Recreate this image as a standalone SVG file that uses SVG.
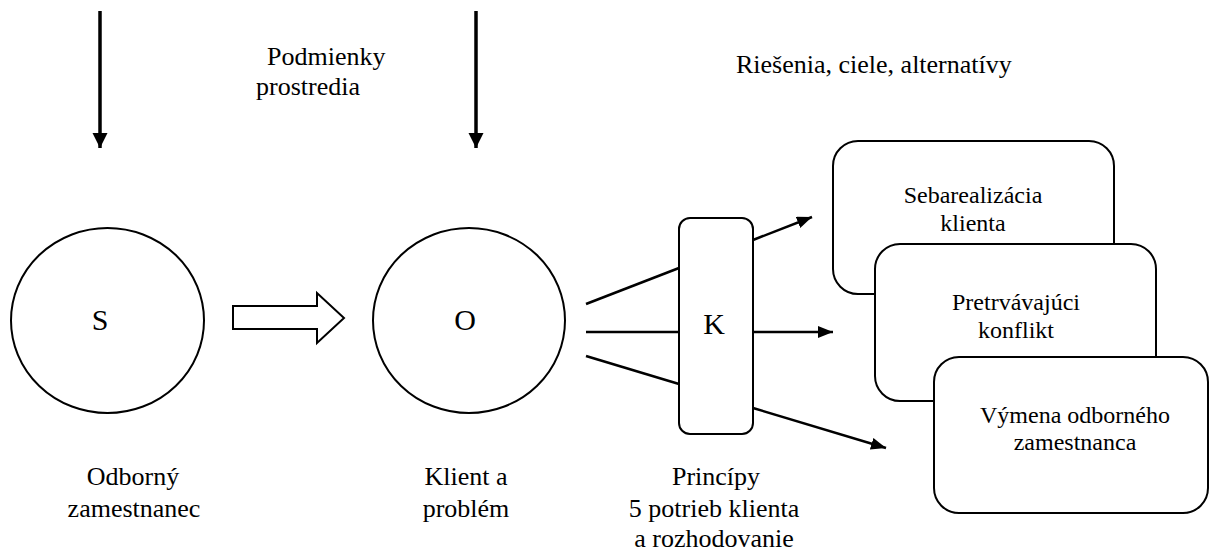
<svg xmlns="http://www.w3.org/2000/svg" width="1210" height="551" viewBox="0 0 1210 551">
<style>
  .lbl { font-size: 26px; }
  .box-t { font-size: 24px; text-anchor: middle; }
  .mid { text-anchor: middle; }
  .letter { font-size: 30px; text-anchor: middle; }
  .shape { fill: #fff; stroke: #000; stroke-width: 2; }
  .conn { stroke: #000; stroke-width: 2.5; fill: none; }
  .down { stroke: #000; stroke-width: 3.5; fill: none; }
</style>
<defs>
  <marker id="ah" markerUnits="userSpaceOnUse" markerWidth="16" markerHeight="13" refX="15" refY="6" orient="auto">
    <path d="M0,0 L15,6 L0,12 z" fill="#000"/>
  </marker>
  <marker id="ahBig" markerUnits="userSpaceOnUse" markerWidth="16" markerHeight="16" refX="15" refY="7.5" orient="auto">
    <path d="M0,0 L15,7.5 L0,15 z" fill="#000"/>
  </marker>
</defs>
<rect width="1210" height="551" fill="#fff"/>

<g id="connectors">
  <line class="down" x1="100" y1="11" x2="100" y2="148" marker-end="url(#ahBig)"/>
  <line class="down" x1="476" y1="11" x2="476" y2="148" marker-end="url(#ahBig)"/>
  <polygon class="shape" points="233,306 317,306 317,293 344,318 317,343 317,329 233,329"/>
  <line class="conn" x1="586" y1="304" x2="679" y2="268"/>
  <line class="conn" x1="586" y1="332" x2="679" y2="332"/>
  <line class="conn" x1="586" y1="356" x2="679" y2="384"/>
  <line class="conn" x1="753" y1="240" x2="812" y2="217" marker-end="url(#ah)"/>
  <line class="conn" x1="753" y1="332" x2="833" y2="332" marker-end="url(#ah)"/>
  <line class="conn" x1="753" y1="408" x2="886" y2="448" marker-end="url(#ah)"/>
</g>

<g font-family="Liberation Serif, serif" fill="#000">
<g id="labels-top">
  <text class="lbl" x="267" y="65">Podmienky</text>
  <text class="lbl" x="256" y="95">prostredia</text>
  <text class="lbl" x="736" y="73">Riešenia, ciele, alternatívy</text>
</g>

<g id="node-S">
  <ellipse class="shape" cx="107.5" cy="320.5" rx="96.5" ry="92.5"/>
  <text class="letter" x="100" y="330">S</text>
  <text class="lbl mid" x="133" y="485">Odborný</text>
  <text class="lbl mid" x="134" y="517">zamestnanec</text>
</g>

<g id="node-O">
  <ellipse class="shape" cx="469" cy="320.5" rx="96" ry="92.5"/>
  <text class="letter" x="465" y="330">O</text>
  <text class="lbl mid" x="466" y="485">Klient a</text>
  <text class="lbl mid" x="466" y="517">problém</text>
</g>

<g id="node-K">
  <rect class="shape" x="679" y="218" width="74" height="216" rx="11" ry="11"/>
  <text class="letter" x="714" y="334">K</text>
  <text class="lbl mid" x="716" y="485">Princípy</text>
  <text class="lbl mid" x="714" y="517">5 potrieb klienta</text>
  <text class="lbl mid" x="714" y="547">a rozhodovanie</text>
</g>

<g id="node-sebarealizacia">
  <rect class="shape" x="833" y="141" width="281" height="153" rx="25" ry="25"/>
  <text class="box-t" x="973" y="203">Sebarealizácia</text>
  <text class="box-t" x="973" y="231">klienta</text>
</g>

<g id="node-konflikt">
  <rect class="shape" x="875" y="244" width="281" height="157" rx="25" ry="25"/>
  <text class="box-t" x="1016" y="310">Pretrvávajúci</text>
  <text class="box-t" x="1016" y="338">konflikt</text>
</g>

<g id="node-vymena">
  <rect class="shape" x="934" y="357" width="274" height="156" rx="25" ry="25"/>
  <text class="box-t" x="1075" y="423">Výmena odborného</text>
  <text class="box-t" x="1075" y="450">zamestnanca</text>
</g>
</g>
</svg>
